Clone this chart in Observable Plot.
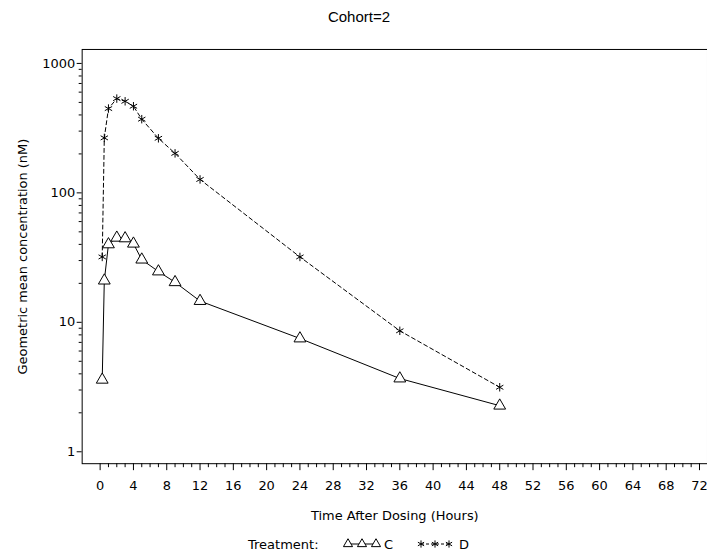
<!DOCTYPE html>
<html><head><meta charset="utf-8">
<script src="https://cdn.jsdelivr.net/npm/d3@7"></script>
<script src="https://cdn.jsdelivr.net/npm/@observablehq/plot@0.6"></script>
<style>
body{margin:0;background:#fff;width:707px;height:555px;overflow:hidden;position:relative;font-family:"DejaVu Sans",sans-serif}
#title{position:absolute;left:0;top:8px;width:718px;text-align:center;font-family:"Liberation Sans",Arial,sans-serif;font-size:15px;color:#000}
#chart{position:absolute;left:0;top:40px;width:707px;overflow:hidden}
#legend{position:absolute;left:0;top:532px}
</style>
</head><body>
<div id="title">Cohort=2</div>
<div id="chart"></div>
<div id="legend"></div>
<script>
const hours = [0.25, 0.5, 1, 2, 3, 4, 5, 7, 9, 12, 24, 36, 48];
const concC = [3.6, 21, 40, 45, 44.5, 40.5, 30.5, 24.7, 20.4, 14.6, 7.5, 3.68, 2.27];
const concD = [32, 266, 448, 535, 510, 467, 371, 264, 202, 127, 32, 8.6, 3.15];
const treatments = ["C", "D"];
const xTicks = d3.range(0, 73, 4);
const xMinor = d3.range(0, 73, 1).filter(d => d % 4 !== 0);
const yTicks = [1, 10, 100, 1000];
const yMinor = [2,3,4,5,6,7,8,9,20,30,40,50,60,70,80,90,200,300,400,500,600,700,800,900];

const data = [
  ...hours.map((h, i) => ({hours: h, conc: concC[i], trt: treatments[0]})),
  ...hours.map((h, i) => ({hours: h, conc: concD[i], trt: treatments[1]}))
];
const dC = data.filter(d => d.trt === "C");
const dD = data.filter(d => d.trt === "D");

const chart = Plot.plot({
  width: 710, height: 492,
  marginLeft: 82, marginRight: 0, marginTop: 9, marginBottom: 67,
  style: {fontFamily: "DejaVu Sans, sans-serif", fontSize: "12.5px", color: "#000", background: "#fff"},
  x: {domain: [-2.16, 72.96]},
  y: {type: "log", domain: [0.809, 1282]},
  marks: [
    Plot.frame({stroke: "#000", strokeWidth: 1}),
    Plot.axisX({ticks: xMinor, tickSize: 4, text: null, label: null, strokeWidth: 1}),
    Plot.axisX({ticks: xTicks, tickSize: 7, tickPadding: 10, fontSize: 13, label: "Time After Dosing (Hours)", labelAnchor: "center", labelArrow: "none", labelOffset: 57, strokeWidth: 1}),
    Plot.axisY({ticks: yMinor, tickSize: 3, text: null, label: null, strokeWidth: 1}),
    Plot.axisY({ticks: yTicks, tickSize: 5, tickPadding: 2, tickFormat: d => String(d), fontSize: 13, label: "Geometric mean concentration (nM)", labelAnchor: "center", labelOffset: 65, labelArrow: "none", strokeWidth: 1}),
    Plot.line(dC, {x: "hours", y: "conc", stroke: "#000", strokeWidth: 1}),
    Plot.line(dD, {x: "hours", y: "conc", stroke: "#000", strokeWidth: 1, strokeDasharray: "4,3"}),
    Plot.dot(dC, {x: "hours", y: "conc", symbol: "triangle", r: 4.4, stroke: "#000", fill: "#fff", strokeWidth: 1}),
    Plot.dot(dD, {x: "hours", y: "conc", symbol: "asterisk", r: 4, stroke: "#000", strokeWidth: 1})
  ]
});
document.getElementById("chart").appendChild(chart);

// Legend
const lg = d3.select("#legend").append("svg").attr("width", 707).attr("height", 23);
lg.append("text").attr("x", 248).attr("y", 17).attr("font-family", "DejaVu Sans").attr("font-size", "13px").text("Treatment:");
const legendItems = [
  {trt: treatments[0], sym: d3.symbolTriangle, dash: null, xs: [348, 362, 376], tx: 384},
  {trt: treatments[1], sym: d3.symbolAsterisk, dash: "3,2", xs: [421, 435, 449], tx: 459}
];
legendItems.forEach(it => {
  lg.append("line").attr("x1", it.xs[0]).attr("x2", it.xs[2]).attr("y1", 12).attr("y2", 12)
    .attr("stroke", "#000").attr("stroke-dasharray", it.dash);
  it.xs.forEach(x => {
    lg.append("path").attr("d", d3.symbol(it.sym, 36)()).attr("transform", `translate(${x},12)`)
      .attr("fill", it.sym === d3.symbolTriangle ? "#fff" : "none").attr("stroke", "#000");
  });
  lg.append("text").attr("x", it.tx).attr("y", 17).attr("font-family", "DejaVu Sans").attr("font-size", "13px").text(it.trt);
});
</script>
</body></html>
